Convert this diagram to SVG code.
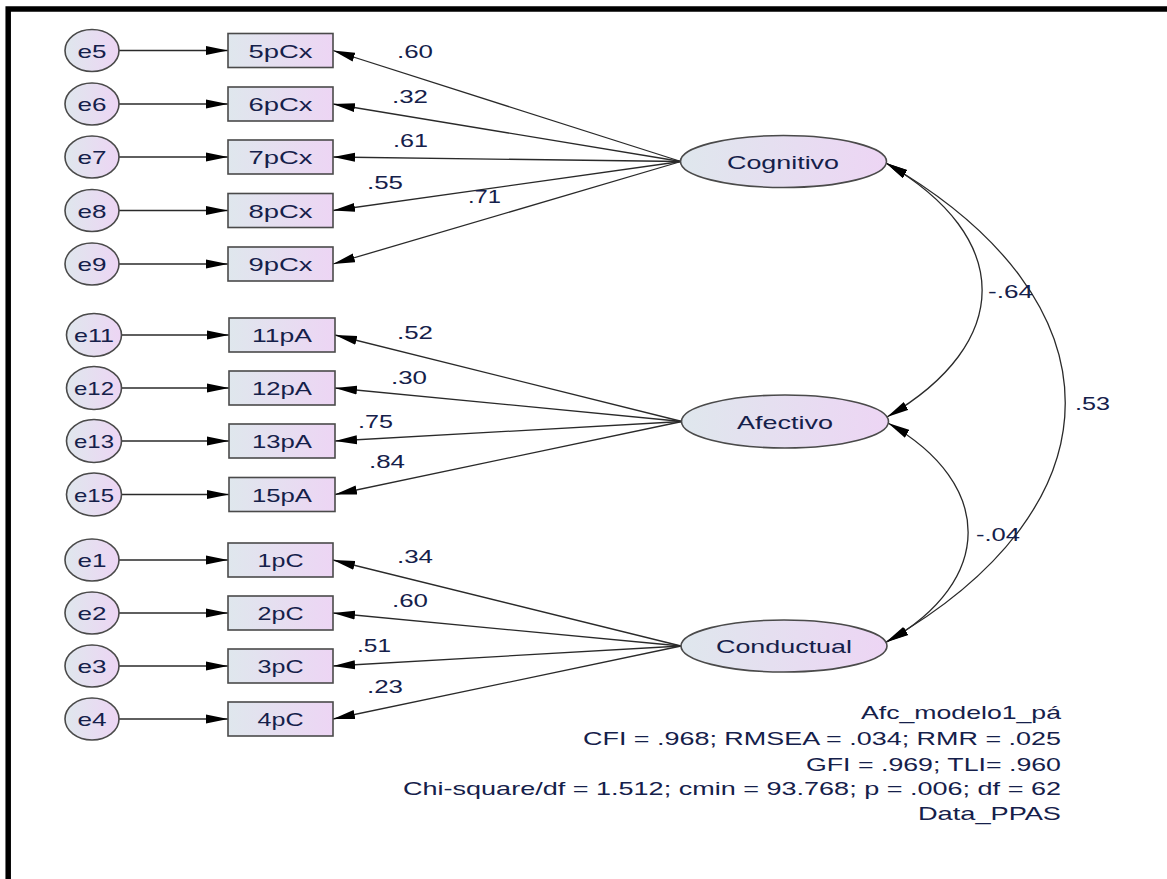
<svg xmlns="http://www.w3.org/2000/svg" width="1167" height="879" viewBox="0 0 1167 879">
<defs>
<linearGradient id="fillg" x1="0" y1="0" x2="1" y2="0">
<stop offset="0" stop-color="#dfe7ed"/>
<stop offset="1" stop-color="#edd5f4"/>
</linearGradient>
<marker id="ah" markerUnits="userSpaceOnUse" markerWidth="22" markerHeight="10" refX="22" refY="4.5" orient="auto-start-reverse" viewBox="0 0 22 9">
<path d="M0,0 L22,4.5 L0,9 z" fill="#000"/>
</marker>
<style>
.obs{fill:url(#fillg);stroke:#4a4a4a;stroke-width:1.6}
.lat{fill:url(#fillg);stroke:#4a4a4a;stroke-width:1.6}
.t{font-family:"Liberation Sans",Arial,sans-serif;font-size:19px;fill:#15204a;text-anchor:middle}
.lbl{font-family:"Liberation Sans",Arial,sans-serif;font-size:19px;fill:#15204a}
.info{font-family:"Liberation Sans",Arial,sans-serif;font-size:19px;fill:#15204a;text-anchor:end}
.ln{stroke:#2a2a2a;stroke-width:1.3;fill:none;marker-end:url(#ah)}
.cv{stroke:#2a2a2a;stroke-width:1.3;fill:none;marker-end:url(#ah);marker-start:url(#ah)}
</style>
</defs>
<rect x="0" y="0" width="1167" height="879" fill="#fff"/>
<rect x="8.2" y="9" width="1172" height="884" fill="none" stroke="#000" stroke-width="5.5"/>

<g id="connectors">
<line class="ln" x1="119" y1="50.5" x2="228" y2="50.5"/>
<line class="ln" x1="119" y1="104" x2="228" y2="104"/>
<line class="ln" x1="119" y1="157" x2="228" y2="157"/>
<line class="ln" x1="119" y1="210.5" x2="228" y2="210.5"/>
<line class="ln" x1="119" y1="264" x2="228" y2="264"/>
<line class="ln" x1="120" y1="335" x2="229" y2="335"/>
<line class="ln" x1="120" y1="388" x2="229" y2="388"/>
<line class="ln" x1="120" y1="441" x2="229" y2="441"/>
<line class="ln" x1="120" y1="494.5" x2="229" y2="494.5"/>
<line class="ln" x1="119" y1="560" x2="228" y2="560"/>
<line class="ln" x1="119" y1="613" x2="228" y2="613"/>
<line class="ln" x1="119" y1="666" x2="228" y2="666"/>
<line class="ln" x1="119" y1="719" x2="228" y2="719"/>

<line class="ln" x1="681" y1="161.5" x2="333" y2="50.5"/>
<line class="ln" x1="681" y1="161.5" x2="333" y2="104"/>
<line class="ln" x1="681" y1="161.5" x2="333" y2="157"/>
<line class="ln" x1="681" y1="161.5" x2="333" y2="210.5"/>
<line class="ln" x1="681" y1="161.5" x2="333" y2="264"/>

<line class="ln" x1="682" y1="421.5" x2="335" y2="335"/>
<line class="ln" x1="682" y1="421.5" x2="335" y2="388"/>
<line class="ln" x1="682" y1="421.5" x2="335" y2="441"/>
<line class="ln" x1="682" y1="421.5" x2="335" y2="494.5"/>

<line class="ln" x1="681" y1="646" x2="333" y2="560"/>
<line class="ln" x1="681" y1="646" x2="333" y2="613"/>
<line class="ln" x1="681" y1="646" x2="333" y2="666"/>
<line class="ln" x1="681" y1="646" x2="333" y2="719"/>

<path class="cv" d="M886,163 C1014,237 1014,343 887,417"/>
<path class="cv" d="M886,163 C1125,301 1125,505 886,642"/>
<path class="cv" d="M888,423 C995,484 995,581 887,642"/>

<text class="lbl" x="397" y="58" textLength="36" lengthAdjust="spacingAndGlyphs">.60</text>
<text class="lbl" x="392" y="103" textLength="36" lengthAdjust="spacingAndGlyphs">.32</text>
<text class="lbl" x="393" y="147" textLength="35" lengthAdjust="spacingAndGlyphs">.61</text>
<text class="lbl" x="367" y="189" textLength="36" lengthAdjust="spacingAndGlyphs">.55</text>
<text class="lbl" x="468" y="203" textLength="33" lengthAdjust="spacingAndGlyphs">.71</text>

<text class="lbl" x="397" y="339" textLength="36" lengthAdjust="spacingAndGlyphs">.52</text>
<text class="lbl" x="391" y="384" textLength="36" lengthAdjust="spacingAndGlyphs">.30</text>
<text class="lbl" x="358" y="428" textLength="35" lengthAdjust="spacingAndGlyphs">.75</text>
<text class="lbl" x="369" y="468" textLength="36" lengthAdjust="spacingAndGlyphs">.84</text>

<text class="lbl" x="397" y="563" textLength="36" lengthAdjust="spacingAndGlyphs">.34</text>
<text class="lbl" x="392" y="607" textLength="36" lengthAdjust="spacingAndGlyphs">.60</text>
<text class="lbl" x="357" y="652" textLength="34" lengthAdjust="spacingAndGlyphs">.51</text>
<text class="lbl" x="367" y="693" textLength="36" lengthAdjust="spacingAndGlyphs">.23</text>

<text class="lbl" x="988" y="298" textLength="45" lengthAdjust="spacingAndGlyphs">-.64</text>
<text class="lbl" x="1075" y="410" textLength="35" lengthAdjust="spacingAndGlyphs">.53</text>
<text class="lbl" x="976" y="541" textLength="44" lengthAdjust="spacingAndGlyphs">-.04</text>
</g>

<g id="e5"><ellipse class="obs" cx="92" cy="50.5" rx="27" ry="21"/><text class="t" x="92" y="57.5" textLength="29" lengthAdjust="spacingAndGlyphs">e5</text></g>
<g id="e6"><ellipse class="obs" cx="92" cy="104" rx="27" ry="21"/><text class="t" x="92" y="111" textLength="29" lengthAdjust="spacingAndGlyphs">e6</text></g>
<g id="e7"><ellipse class="obs" cx="92" cy="157" rx="27" ry="21"/><text class="t" x="92" y="164" textLength="29" lengthAdjust="spacingAndGlyphs">e7</text></g>
<g id="e8"><ellipse class="obs" cx="92" cy="210.5" rx="27" ry="21"/><text class="t" x="92" y="217.5" textLength="29" lengthAdjust="spacingAndGlyphs">e8</text></g>
<g id="e9"><ellipse class="obs" cx="92" cy="264" rx="27" ry="21"/><text class="t" x="92" y="271" textLength="29" lengthAdjust="spacingAndGlyphs">e9</text></g>
<g id="e11"><ellipse class="obs" cx="94" cy="335" rx="27.5" ry="21.5"/><text class="t" x="94" y="342" textLength="40" lengthAdjust="spacingAndGlyphs">e11</text></g>
<g id="e12"><ellipse class="obs" cx="94" cy="388" rx="27.5" ry="21.5"/><text class="t" x="94" y="395" textLength="40" lengthAdjust="spacingAndGlyphs">e12</text></g>
<g id="e13"><ellipse class="obs" cx="94" cy="441" rx="27.5" ry="21.5"/><text class="t" x="94" y="448" textLength="40" lengthAdjust="spacingAndGlyphs">e13</text></g>
<g id="e15"><ellipse class="obs" cx="94" cy="494.5" rx="27.5" ry="21.5"/><text class="t" x="94" y="501.5" textLength="40" lengthAdjust="spacingAndGlyphs">e15</text></g>
<g id="e1"><ellipse class="obs" cx="92" cy="560" rx="27" ry="21"/><text class="t" x="92" y="567" textLength="29" lengthAdjust="spacingAndGlyphs">e1</text></g>
<g id="e2"><ellipse class="obs" cx="92" cy="613" rx="27" ry="21"/><text class="t" x="92" y="620" textLength="29" lengthAdjust="spacingAndGlyphs">e2</text></g>
<g id="e3"><ellipse class="obs" cx="92" cy="666" rx="27" ry="21"/><text class="t" x="92" y="673" textLength="29" lengthAdjust="spacingAndGlyphs">e3</text></g>
<g id="e4"><ellipse class="obs" cx="92" cy="719" rx="27" ry="21"/><text class="t" x="92" y="726" textLength="29" lengthAdjust="spacingAndGlyphs">e4</text></g>

<g id="n5pCx"><rect class="obs" x="228" y="33.5" width="105" height="34"/><text class="t" x="280.5" y="57.5" textLength="64" lengthAdjust="spacingAndGlyphs">5pCx</text></g>
<g id="n6pCx"><rect class="obs" x="228" y="87" width="105" height="34"/><text class="t" x="280.5" y="111" textLength="64" lengthAdjust="spacingAndGlyphs">6pCx</text></g>
<g id="n7pCx"><rect class="obs" x="228" y="140" width="105" height="34"/><text class="t" x="280.5" y="164" textLength="64" lengthAdjust="spacingAndGlyphs">7pCx</text></g>
<g id="n8pCx"><rect class="obs" x="228" y="193.5" width="105" height="34"/><text class="t" x="280.5" y="217.5" textLength="64" lengthAdjust="spacingAndGlyphs">8pCx</text></g>
<g id="n9pCx"><rect class="obs" x="228" y="247" width="105" height="34"/><text class="t" x="280.5" y="271" textLength="64" lengthAdjust="spacingAndGlyphs">9pCx</text></g>
<g id="n11pA"><rect class="obs" x="229" y="318" width="106" height="34"/><text class="t" x="282" y="342" textLength="60" lengthAdjust="spacingAndGlyphs">11pA</text></g>
<g id="n12pA"><rect class="obs" x="229" y="371" width="106" height="34"/><text class="t" x="282" y="395" textLength="60" lengthAdjust="spacingAndGlyphs">12pA</text></g>
<g id="n13pA"><rect class="obs" x="229" y="424" width="106" height="34"/><text class="t" x="282" y="448" textLength="60" lengthAdjust="spacingAndGlyphs">13pA</text></g>
<g id="n15pA"><rect class="obs" x="229" y="477.5" width="106" height="34"/><text class="t" x="282" y="501.5" textLength="60" lengthAdjust="spacingAndGlyphs">15pA</text></g>
<g id="n1pC"><rect class="obs" x="228" y="543" width="105" height="34"/><text class="t" x="280.5" y="567" textLength="46" lengthAdjust="spacingAndGlyphs">1pC</text></g>
<g id="n2pC"><rect class="obs" x="228" y="596" width="105" height="34"/><text class="t" x="280.5" y="620" textLength="46" lengthAdjust="spacingAndGlyphs">2pC</text></g>
<g id="n3pC"><rect class="obs" x="228" y="649" width="105" height="34"/><text class="t" x="280.5" y="673" textLength="46" lengthAdjust="spacingAndGlyphs">3pC</text></g>
<g id="n4pC"><rect class="obs" x="228" y="702" width="105" height="34"/><text class="t" x="280.5" y="726" textLength="46" lengthAdjust="spacingAndGlyphs">4pC</text></g>

<g id="Cognitivo"><ellipse class="lat" cx="783.5" cy="161.5" rx="103" ry="26"/><text class="t" x="783" y="169" textLength="112" lengthAdjust="spacingAndGlyphs">Cognitivo</text></g>
<g id="Afectivo"><ellipse class="lat" cx="785" cy="421.5" rx="103.5" ry="26.5"/><text class="t" x="785" y="428.5" textLength="96" lengthAdjust="spacingAndGlyphs">Afectivo</text></g>
<g id="Conductual"><ellipse class="lat" cx="784" cy="646" rx="103" ry="26"/><text class="t" x="784" y="653" textLength="136" lengthAdjust="spacingAndGlyphs">Conductual</text></g>

<g id="fitinfo">
<text class="info" x="1061" y="719" textLength="200" lengthAdjust="spacingAndGlyphs">Afc_modelo1_pá</text>
<text class="info" x="1061" y="745" textLength="478" lengthAdjust="spacingAndGlyphs">CFI = .968; RMSEA = .034; RMR = .025</text>
<text class="info" x="1061" y="771" textLength="255" lengthAdjust="spacingAndGlyphs">GFI = .969; TLI= .960</text>
<text class="info" x="1061" y="795" textLength="658" lengthAdjust="spacingAndGlyphs">Chi-square/df = 1.512; cmin = 93.768; p = .006; df = 62</text>
<text class="info" x="1061" y="820" textLength="143" lengthAdjust="spacingAndGlyphs">Data_PPAS</text>
</g>
</svg>
